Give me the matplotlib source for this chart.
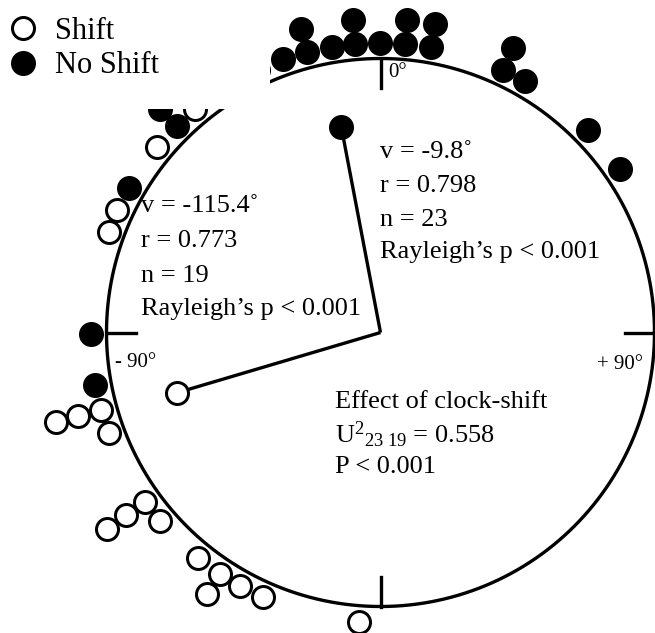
import numpy as np
import matplotlib
matplotlib.use("Agg")
import matplotlib.pyplot as plt
from matplotlib.patches import Rectangle

# ---------------- data (angles in degrees, clockwise from 0° at top) ----------------
shift_angles = [-35.0, -39.7, -50.3, -65.1, -69.7, -105.4, -105.4, -105.4, -110.3,
                -125.7, -125.7, -125.7, -130.6, -141.1, -146.4, -146.4, -151.0,
                -156.0, -175.8]
noshift_angles = [-100.4, -90.2, -60.2, -44.6, -44.6, -30.0, -25.0, -19.7, -14.7,
                  -14.7, -9.6, -5.0, -5.0, -0.1, 4.9, 4.9, 10.0, 10.0, 25.0, 25.0,
                  29.8, 45.7, 55.7]
# drawn mean vectors (angle, length)
mean_angle = {"shift": -106.5, "noshift": -10.8}
mean_r = {"shift": 0.775, "noshift": 0.765}
tick_angles = [0, 90, 180, -90]
tick_labels = {0: "0°", 90: "+ 90°", -90: "- 90°"}
left_stats = ["v = -115.4˚", "r = 0.773", "n = 19", "Rayleigh’s p < 0.001"]
right_stats = ["v = -9.8˚", "r = 0.798", "n = 23", "Rayleigh’s p < 0.001"]
effect_lines = ["Effect of clock-shift", r"U${}^{2}{}_{23\ 19}$ = 0.558", "P < 0.001"]
legend_labels = ["Shift", "No Shift"]

# ---------------- style / layout ----------------
W, H = 655, 633
CX, CY, RPX = 380.5, 332.5, 274.0
FAM = ["Liberation Serif", "DejaVu Serif"]
plt.rcParams["font.family"] = FAM
plt.rcParams["mathtext.fontset"] = "custom"
plt.rcParams["mathtext.rm"] = "Liberation Serif"
plt.rcParams["mathtext.it"] = "Liberation Serif:italic"
plt.rcParams["mathtext.bf"] = "Liberation Serif:bold"

MS = 22 * 0.72      # marker diameter (pt)
MEW = 3 * 0.72      # marker edge (pt)
LW = 2.4
R1 = 290 / RPX      # first stacking ring
STEP = 23.5 / RPX   # ring step


def ax_px(px, py):
    return px / W, 1 - py / H


fig = plt.figure(figsize=(W / 100, H / 100), dpi=100)
ax = fig.add_axes([0, 0, 1, 1])
ax.set_xlim(-CX / RPX, (W - CX) / RPX)
ax.set_ylim((CY - H) / RPX, CY / RPX)
ax.set_aspect("equal")
ax.axis("off")

# circle
t = np.linspace(0, 2 * np.pi, 721)
ax.plot(np.cos(t), np.sin(t), color="black", lw=LW, zorder=2)

# ticks
for a in tick_angles:
    ar = np.deg2rad(a)
    ax.plot([np.sin(ar), 0.894 * np.sin(ar)], [np.cos(ar), 0.894 * np.cos(ar)],
            color="black", lw=LW, zorder=2)


def stacked(angles):
    counts = {}
    xs, ys = [], []
    for a in angles:
        k = counts.get(a, 0)
        counts[a] = k + 1
        d = R1 + k * STEP
        ar = np.deg2rad(a)
        xs.append(d * np.sin(ar))
        ys.append(d * np.cos(ar))
    return xs, ys


sx, sy = stacked(shift_angles)
nx, ny = stacked(noshift_angles)
ax.plot(sx, sy, ls="none", marker="o", ms=MS, mfc="white", mec="black", mew=MEW, zorder=3)
ax.plot(nx, ny, ls="none", marker="o", ms=MS, mfc="black", mec="black", mew=MEW, zorder=3)

# mean vectors
for key, fc in (("shift", "white"), ("noshift", "black")):
    ar = np.deg2rad(mean_angle[key])
    ex, ey = mean_r[key] * np.sin(ar), mean_r[key] * np.cos(ar)
    ax.plot([0, ex], [0, ey], color="black", lw=LW, zorder=3, solid_capstyle="butt")
    ax.plot([ex], [ey], ls="none", marker="o", ms=MS, mfc=fc, mec="black", mew=MEW, zorder=4)

# tick labels
ax.text(*ax_px(388, 77), tick_labels[0], transform=ax.transAxes, fontsize=15,
        ha="left", va="baseline")
ax.text(*ax_px(115, 367), tick_labels[-90], transform=ax.transAxes, fontsize=15,
        ha="left", va="baseline")
ax.text(*ax_px(643, 369), tick_labels[90], transform=ax.transAxes, fontsize=15,
        ha="right", va="baseline")

# statistics text
for s, by in zip(left_stats, [212, 247, 282, 315]):
    ax.text(*ax_px(141, by), s, transform=ax.transAxes, fontsize=19, va="baseline", zorder=6)
for s, by in zip(right_stats, [158, 192, 226, 258]):
    ax.text(*ax_px(380, by), s, transform=ax.transAxes, fontsize=19, va="baseline", zorder=6)
for s, by in zip(effect_lines, [408, 443, 473]):
    ax.text(*ax_px(335, by), s, transform=ax.transAxes, fontsize=19, va="baseline", zorder=6)

# legend box (white, covers the top-left of the plot)
ax.add_patch(Rectangle((0, 1 - 109 / H), 270 / W, 109 / H, transform=ax.transAxes,
                       facecolor="white", edgecolor="none", zorder=5))
for (mfc, my, ty), lab in zip((("white", 28, 39), ("black", 63, 73)), legend_labels):
    mx_, my_ = ax_px(23, my)
    ax.plot([mx_], [my_], transform=ax.transAxes, ls="none", marker="o", ms=MS,
            mfc=mfc, mec="black", mew=MEW, zorder=6)
    ax.text(*ax_px(55, ty), lab, transform=ax.transAxes, fontsize=22, va="baseline", zorder=6)

fig.savefig("out.png", dpi=100)
